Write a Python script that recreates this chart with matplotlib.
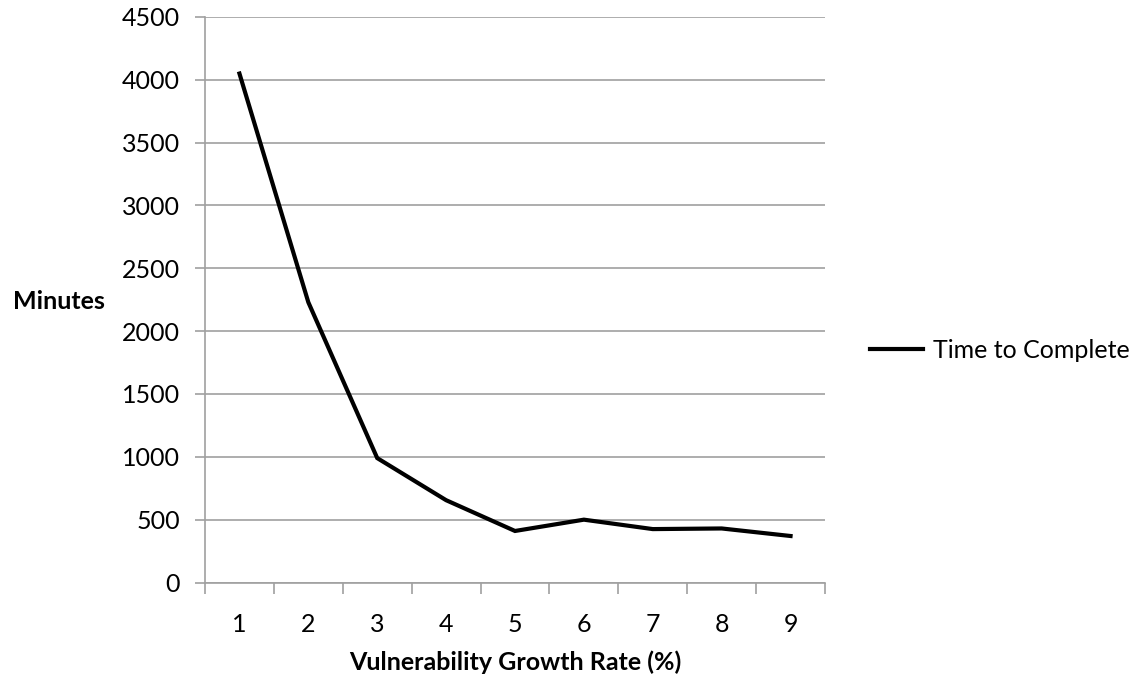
import matplotlib.pyplot as plt
import numpy as np

plt.rcParams['font.family'] = ['Lato', 'DejaVu Sans']

# Time to complete per growth rate
rates = [1, 2, 3, 4, 5, 6, 7, 8, 9]
minutes = [4050, 2230, 990, 655, 410, 500, 425, 430, 370]
y_ticks = [0, 500, 1000, 1500, 2000, 2500, 3000, 3500, 4000, 4500]

fig = plt.figure(figsize=(11.39, 6.76), dpi=100)
ax = fig.add_axes([205 / 1139, 1 - 582.5 / 676, 620 / 1139, 565.5 / 676])

line, = ax.plot(rates, minutes, color='black', lw=3, solid_joinstyle='miter',
                label='Time to Complete')

ax.set_xlim(0.5, 9.5)
ax.set_ylim(0, 4500)
ax.set_yticks(y_ticks)
ax.yaxis.grid(True, color='#a0a0a0', lw=1.2)
ax.set_axisbelow(True)

# category boundaries carry the tick marks, labels sit at the centres
ax.set_xticks(np.arange(0.5, 10, 1))
ax.set_xticklabels([])
ax.set_xticks(rates, minor=True)
ax.set_xticklabels([str(r) for r in rates], minor=True)
ax.tick_params(axis='x', which='major', length=8, color='#a0a0a0', width=1.2)
ax.tick_params(axis='x', which='minor', length=0, pad=22, labelsize=18)
ax.tick_params(axis='y', length=7, color='#a0a0a0', width=1.2, pad=11, labelsize=18)

for side in ['top', 'right']:
    ax.spines[side].set_visible(False)
for side in ['left', 'bottom']:
    ax.spines[side].set_color('#a0a0a0')
    ax.spines[side].set_linewidth(1.2)

ax.set_xlabel('Vulnerability Growth Rate (%)', fontsize=18, fontweight='bold', labelpad=10)
fig.text(13 / 1139, 1 - 302 / 676, 'Minutes', fontsize=18, fontweight='bold',
         ha='left', va='center')

ax.legend(handles=[line], loc='center left', bbox_to_anchor=(1.037, 0.41),
          frameon=False, fontsize=18, handlelength=2.1, handletextpad=0.4)

fig.savefig('out.png', dpi=100)
